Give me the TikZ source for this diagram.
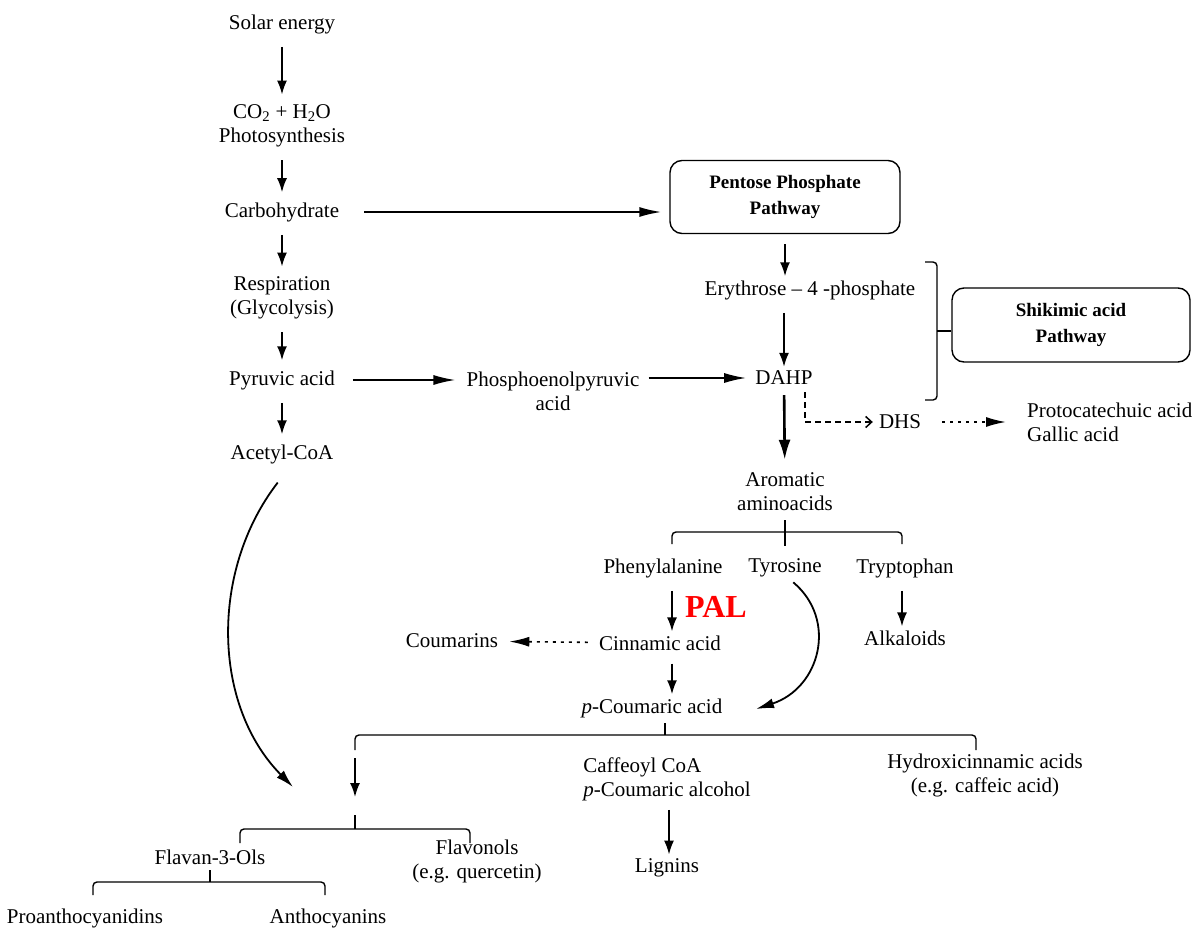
\documentclass[tikz,border=0pt]{standalone}
\usepackage{fontspec}
\setmainfont{Liberation Serif}
\usetikzlibrary{arrows.meta}

\begin{document}
\begin{tikzpicture}[x=1pt, y=-1pt,
txt/.style = {align=center, inner sep=3pt, font=\fontsize{21}{24}\selectfont},
pbox/.style = {draw, line width=1.4pt, rounded corners=12pt, align=center,
               font=\fontsize{19}{26}\selectfont\bfseries},
arr/.style = {line width=1.8pt, -{Latex[length=14pt, width=10pt]},
              shorten <=10pt, shorten >=7pt},
harr/.style = {arr, -{Latex[length=22pt, width=10pt]}},
dasharr/.style = {line width=1.5pt, dash pattern=on 6pt off 4pt,
                  -{Straight Barb[length=6pt, width=11pt]}},
dotarr/.style = {line width=1.6pt, dash pattern=on 3pt off 5pt,
                 -{Latex[length=20pt, width=10pt]}},
brk/.style = {line width=1.4pt, rounded corners=4pt}
]
\useasboundingbox (0,0) rectangle (1199,934);

% left column
\node[txt] (solar)  at (282, 24)  {Solar energy};
\node[txt] (co2)    at (282,126)  {CO\textsubscript{2} + H\textsubscript{2}O\\Photosynthesis};
\node[txt] (carb)   at (282,212)  {Carbohydrate};
\node[txt] (resp)   at (282,298)  {Respiration\\(Glycolysis)};
\node[txt] (pyr)    at (282,380)  {Pyruvic acid};
\node[txt] (acetyl) at (282,454)  {Acetyl-CoA};

\draw[arr] (solar) -- (co2);
\draw[arr] (co2) -- (carb);
\draw[arr] (carb) -- (resp);
\draw[arr] (resp) -- (pyr);
\draw[arr] (pyr) -- (acetyl);

% pentose and shikimic pathways
\node[pbox, minimum width=230pt, minimum height=73pt] (ppp) at (785,197) {Pentose Phosphate\\Pathway};
\node[txt] (ery)  at (810,290) {Erythrose -- 4 -phosphate};
\node[txt] (dahp) at (784,378) {DAHP};
\node[txt] (pep)  at (553,391) {Phosphoenolpyruvic\\acid};
\node[pbox, minimum width=238pt, minimum height=74pt] (shik) at (1071,325) {Shikimic acid\\Pathway};
\node[txt] (dhs)  at (900,422) {DHS};
\node[txt, align=left, anchor=west] (proto) at (1024,422) {Protocatechuic acid\\Gallic acid};
\node[txt] (arom) at (785,492) {Aromatic\\aminoacids};

\draw[harr, shorten <=22pt, shorten >=8pt] (carb) -- (carb -| ppp.west);
\draw[arr, shorten >=1pt] (ppp) -- (ppp |- ery.north);
\draw[arr, shorten >=1pt] (ery.south -| dahp) -- (dahp);
\draw[harr, shorten <=15pt, shorten >=8pt] (pyr) -- (pyr -| pep.west);
\draw[harr, shorten <=6pt, shorten >=6pt] (pep.east |- dahp) -- (dahp);
\draw[arr, line width=2.6pt, -{Latex[length=20pt, width=12pt]}, shorten <=7pt, shorten >=10pt] (dahp) -- (arom);
\draw[dasharr, shorten <=4pt, shorten >=3pt] ([xshift=21pt]dahp.south) |- (dhs);
\draw[dotarr, shorten <=18pt, shorten >=18pt] (dhs) -- (dhs -| proto.west);

% bracket of the shikimic pathway
\draw[brk] (925,262) -- (937,262) -- (937,400) -- (925,400);
\draw[brk] (937,331) -- (shik.west |- 937,331);

% aromatic amino acids
\draw[brk] (672,544) -- (672,532) -- (902,532) -- (902,544);
\draw[line width=1.4pt] (arom.south |- 0,520) -- (arom.south |- 0,546);

\node[txt] (phe)  at (663,568) {Phenylalanine};
\node[txt] (tyr)  at (785,568) {Tyrosine};
\node[txt] (trp)  at (905,568) {Tryptophan};
\node[text=red, font=\fontsize{32}{32}\selectfont\bfseries, inner sep=0pt] (pal) at (716,607) {PAL};
\node[txt] (cinn) at (660,643) {Cinnamic acid};
\node[txt] (coum) at (452,641) {Coumarins};
\node[txt] (alk)  at (905,638) {Alkaloids};
\node[txt] (pcou) at (652,708) {\textit{p}-Coumaric acid};
\coordinate (tyrend) at (756,709);

\draw[arr, shorten >=1pt] ([xshift=9pt]phe.south) -- ([xshift=9pt]phe.south |- cinn.north);
\draw[arr, shorten >=1pt] ([xshift=12pt]cinn.south) -- ([xshift=12pt]cinn.south |- pcou.north);
\draw[arr, shorten >=1pt] ([xshift=-3pt]trp.south) -- ([xshift=-3pt]trp.south |- alk.north);
\draw[dotarr, shorten <=8pt, shorten >=8pt] (cinn) -- (coum);
\draw[arr, -{Latex[length=18pt, width=10pt]}, shorten <=3pt, shorten >=0pt] ([xshift=6pt]tyr.south) .. controls (838,620) and (820,688) .. (tyrend);

% branches of p-coumaric acid
\draw[brk] (355,750) -- (355,735) -- (976,735) -- (976,750);
\draw[line width=1.4pt] (665,723) -- (665,735);

\node[txt, align=left] (caff) at (667,779) {Caffeoyl CoA\\\textit{p}-Coumaric alcohol};
\node[txt] (lig)  at (667,868) {Lignins};
\node[txt] (hyd)  at (985,775) {Hydroxicinnamic acids\\(e.g. caffeic acid)};
\draw[arr, shorten <=6pt, shorten >=1pt] (caff.south -| 669,0) -- (lig.north -| 669,0);

% flavonoids
\coordinate (flvtop) at (355,758);
\coordinate (flvbot) at (355,797);
\coordinate (flvin)  at (293,787);
\draw[arr, shorten <=0pt, shorten >=0pt] (flvtop) -- (flvbot);
\draw[arr, -{Latex[length=18pt, width=10pt]}, shorten <=20pt, shorten >=0pt] ([xshift=8pt]acetyl.south) .. controls (210,570) and (212,705) .. (flvin);

\draw[brk] (240,843) -- (240,829) -- (470,829) -- (470,843);
\draw[line width=1.4pt] (355,815) -- (355,829);
\node[txt] (flavan) at (210,857) {Flavan-3-Ols};
\node[txt] (flavon) at (477,861) {Flavonols\\(e.g. quercetin)};

\draw[brk] (93,895) -- (93,882) -- (325,882) -- (325,895);
\draw[line width=1.4pt] (210,870) -- (210,882);
\node[txt] (proa)  at (85,918)  {Proanthocyanidins};
\node[txt] (antho) at (328,918) {Anthocyanins};

\end{tikzpicture}
\end{document}
